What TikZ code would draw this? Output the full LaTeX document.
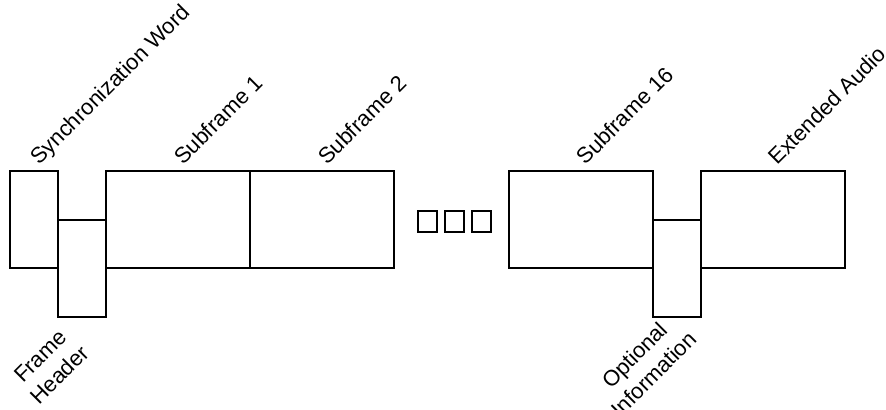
\documentclass[tikz,border=0pt]{standalone}
\usepackage{fontspec}
\setmainfont{Liberation Sans}
\usetikzlibrary{positioning}

\begin{document}
\begin{tikzpicture}[x=0.5pt, y=-0.5pt,
	font=\fontsize{11}{13.5}\selectfont,
	field/.style={draw, line width=1pt, inner sep=0pt, minimum height=48.5pt},
	wide/.style={field, minimum width=72pt},
	narrow/.style={field, minimum width=24pt},
	toplabel/.style={rotate=45, anchor=base west, inner sep=0pt},
	lowlabel/.style={rotate=45, anchor=center, align=center, inner sep=0pt},
	gapbox/.style={draw, line width=1.3pt, inner sep=0pt, minimum width=9.5pt, minimum height=10.5pt}]
	\useasboundingbox (0,0) rectangle (886,409);

	% frame fields
	\node[narrow] (sync) at (34,219.5) {};
	\node[narrow] (hdr) at (82,268) {};
	\node[wide] (sub1) at (178,219.5) {};
	\node[wide] (sub2) at (322,219.5) {};
	\node[wide] (sub16) at (580.5,219.5) {};
	\node[narrow] (opt) at (677,268) {};
	\node[wide] (ext) at (772.5,219.5) {};

	% skipped subframes
	\foreach \i in {1,2,3} {
		\node[gapbox] (gap\i) at ({427.5+27*(\i-1)},221.5) {};
	}

	% field names
	\node[toplabel] (syncname) at ([shift={(5,-4)}]sync.north) {Synchronization Word};
	\node[toplabel] (sub1name) at ([shift={(5,-4)}]sub1.north) {Subframe 1};
	\node[toplabel] (sub2name) at ([shift={(5,-4)}]sub2.north) {Subframe 2};
	\node[toplabel] (sub16name) at ([shift={(5,-4)}]sub16.north) {Subframe 16};
	\node[toplabel] (extname) at ([shift={(5,-4)}]ext.north) {Extended Audio};

	\node[lowlabel] (hdrname) at ([shift={(-32,48)}]hdr.south) {Frame\\Header};
	\node[lowlabel] (optname) at ([shift={(-33,47)}]opt.south) {Optional\\Information};
\end{tikzpicture}
\end{document}
